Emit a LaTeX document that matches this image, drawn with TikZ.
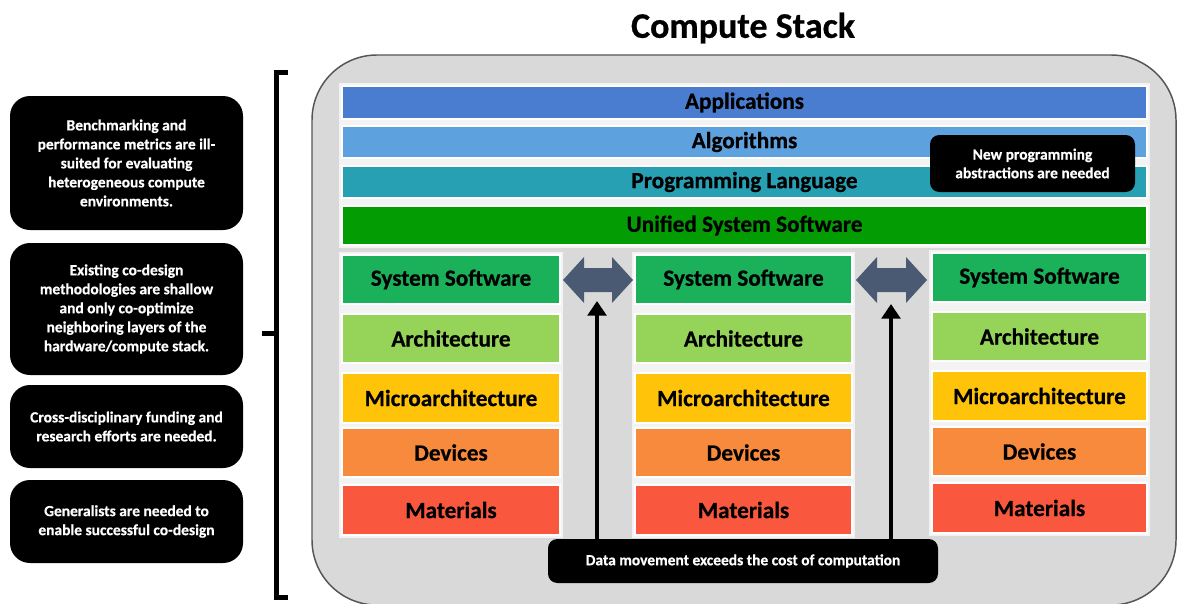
\documentclass[tikz,border=0pt]{standalone}
\usepackage{fontspec}
\setmainfont{Carlito}[BoldFeatures={FakeBold=0.6}]
\usetikzlibrary{arrows.meta}
\definecolor{cApp}{HTML}{4A7CCF}
\definecolor{cAlg}{HTML}{5DA1DE}
\definecolor{cPL}{HTML}{27A0B4}
\definecolor{cUSS}{HTML}{039C03}
\definecolor{cSS}{HTML}{1BB05A}
\definecolor{cArch}{HTML}{95D458}
\definecolor{cMicro}{HTML}{FFC40A}
\definecolor{cDev}{HTML}{F78A3C}
\definecolor{cMat}{HTML}{F9583E}
\definecolor{cPanel}{HTML}{D9D9D9}
\definecolor{cBord}{HTML}{555555}
\definecolor{cArrow}{HTML}{4A5A73}
\definecolor{cGap}{HTML}{F3F3F3}
\newcommand\lay[7]{\node[band, fill=#6, minimum width={(#4-#2)*0.75pt}, minimum height={(#5-#3)*0.75pt}] (#1) at ({(#2+#4)/2},{(#3+#5)/2}) {#7};}
\tikzset{
  band/.style={draw=white, line width=1.5pt, inner sep=0pt, text=black,
    font=\bfseries\fontsize{17.4}{20}\selectfont},
  lbox/.style={fill=black, rounded corners=15pt, text=white, align=center, inner sep=0pt,
    font=\bfseries\fontsize{11.6}{14.25}\selectfont},
  sbox/.style={fill=black, rounded corners=7pt, text=white, align=center, inner sep=0pt,
    font=\bfseries\fontsize{11.6}{14}\selectfont},
  gapbg/.style={fill=cGap},
  dblarrow/.style={fill=cArrow},
  varrow/.style={draw=black, line width=3pt, -{Triangle[length=11pt,width=14pt]}},
  bracket/.style={draw=black, line width=3.75pt, line join=miter}
}
\begin{document}
\begin{tikzpicture}[x=0.75pt,y=-0.75pt]
\useasboundingbox (0,0) rectangle (1177,603);
\clip (0,0) rectangle (1177,603);
% title
\node[font=\bfseries\fontsize{27}{31}\selectfont] (title) at (743,28) {Compute Stack};
% panel
\draw[fill=cPanel, draw=cBord, line width=1.1pt, rounded corners=48.75pt] (312,55) rectangle (1176,605);
% light backgrounds
\fill[gapbg] (339,83) rectangle (1150,248);
\fill[gapbg] (339,252) rectangle (563,538);
\fill[gapbg] (632,252) rectangle (855,538);
\fill[gapbg] (929,250) rectangle (1150,536);
% full-width layers
\lay{app}{342}{86}{1147}{119}{cApp}{Applications}
\lay{alg}{342}{126}{1147}{158}{cAlg}{Algorithms}
\lay{pl}{342}{166}{1147}{198}{cPL}{Programming Language}
\lay{uss}{342}{206}{1147}{245}{cUSS}{Unified System Software}
% left column
\lay{ssA}{342}{255}{560}{304}{cSS}{System Software}
\lay{arA}{342}{314}{560}{363}{cArch}{Architecture}
\lay{miA}{342}{373}{560}{423}{cMicro}{Microarchitecture}
\lay{deA}{342}{428}{560}{477}{cDev}{Devices}
\lay{maA}{342}{485}{560}{535}{cMat}{Materials}
% middle column
\lay{ssB}{635}{255}{852}{304}{cSS}{System Software}
\lay{arB}{635}{314}{852}{363}{cArch}{Architecture}
\lay{miB}{635}{373}{852}{423}{cMicro}{Microarchitecture}
\lay{deB}{635}{428}{852}{477}{cDev}{Devices}
\lay{maB}{635}{485}{852}{535}{cMat}{Materials}
% right column
\lay{ssC}{932}{253}{1147}{302}{cSS}{System Software}
\lay{arC}{932}{312}{1147}{361}{cArch}{Architecture}
\lay{miC}{932}{371}{1147}{421}{cMicro}{Microarchitecture}
\lay{deC}{932}{427}{1147}{476}{cDev}{Devices}
\lay{maC}{932}{483}{1147}{533}{cMat}{Materials}
% double arrows
\fill[dblarrow] (563,280) -- (584,257) -- (584,268) -- (612,268) -- (612,257) -- (633,280)
  -- (612,303) -- (612,292) -- (584,292) -- (584,303) -- cycle;
\fill[dblarrow] (856,280) -- (877,257) -- (877,268) -- (906,268) -- (906,257) -- (927,280)
  -- (906,303) -- (906,292) -- (877,292) -- (877,303) -- cycle;
% callouts
\node[sbox, minimum width={205*0.75pt}, minimum height={57*0.75pt}] (npa) at (1032.5,163.5)
  {New programming\\abstractions are needed};
\node[sbox, minimum width={390*0.75pt}, minimum height={44*0.75pt}] (data) at (743,561)
  {Data movement exceeds the cost of computation};
% vertical arrows
\coordinate (t1) at (597,301);
\coordinate (t2) at (891,304);
\draw[varrow] (data.north -| t1) -- (t1);
\draw[varrow] (data.north -| t2) -- (t2);
% left boxes
\node[lbox, minimum width={233*0.75pt}, minimum height={134*0.75pt}] (b1) at (126.5,163)
  {Benchmarking and\\performance metrics are ill-\\suited for evaluating\\heterogeneous compute\\environments.};
\node[lbox, minimum width={233*0.75pt}, minimum height={132*0.75pt}] (b2) at (126.5,309)
  {Existing co-design\\methodologies are shallow\\and only co-optimize\\neighboring layers of the\\hardware/compute stack.};
\node[lbox, minimum width={233*0.75pt}, minimum height={83*0.75pt}] (b3) at (126.5,426.5)
  {Cross-disciplinary funding and\\research efforts are needed.};
\node[lbox, minimum width={233*0.75pt}, minimum height={83*0.75pt}] (b4) at (126.5,521.5)
  {Generalists are needed to\\enable successful co-design};
% bracket
\coordinate (brT) at (288,72);
\coordinate (brB) at (288,597);
\coordinate (brM) at (262,333);
\draw[bracket] (brT) -- (276,72) -- (276,597) -- (brB);
\draw[bracket] (276,333) -- (brM);
\end{tikzpicture}
\end{document}
